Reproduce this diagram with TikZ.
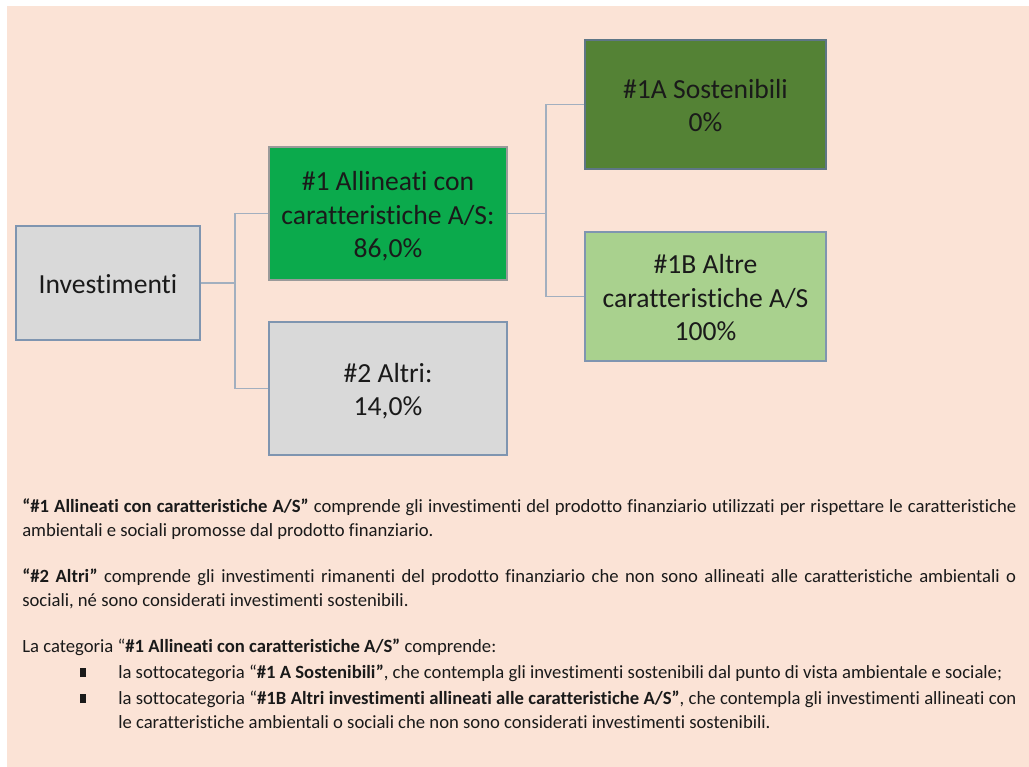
\documentclass[tikz,border=0pt]{standalone}
\usepackage{fontspec}
\setmainfont{Carlito}[Ligatures=CommonOff]
\definecolor{bgpeach}{HTML}{FBE3D6}
\definecolor{grayfill}{HTML}{D9D9D9}
\definecolor{grayedge}{HTML}{7F95B0}
\definecolor{greenone}{HTML}{0BAA4C}
\definecolor{greenoneedge}{HTML}{9A9A9A}
\definecolor{greenA}{HTML}{548235}
\definecolor{greenAedge}{HTML}{5E7686}
\definecolor{greenB}{HTML}{A9D18E}
\definecolor{connc}{HTML}{A2AFBF}
\definecolor{txt}{HTML}{1A1A1A}
\hyphenpenalty=10000
\exhyphenpenalty=10000
\newcommand\sqbullet{\leavevmode\llap{\rule[0.6pt]{4.2pt}{7.2pt}\hspace{24.5pt}}}
\newcommand\boxlines[1]{\begin{tabular}{@{}c@{}}\rule{0pt}{23.5pt}#1\end{tabular}}
\begin{document}
\begin{tikzpicture}[x=0.75pt,y=-0.75pt,
  box/.style={draw, line width=0.9pt, inner sep=0pt, text=txt, font=\fontsize{20.7}{25}\selectfont},
  wide/.style={minimum width=178.5pt, minimum height=99.75pt},
  wider/.style={minimum width=180.75pt, minimum height=96.75pt},
  conn/.style={draw=connc, line width=1.1pt},
  para/.style={anchor=base west, inner sep=0pt, text width=745.5pt, align=justify, text=txt, font=\fontsize{14}{18.4}\selectfont},
  bpara/.style={para, text width=673.5pt}]
\useasboundingbox (0,0) rectangle (1029,767);
\fill[bgpeach] (7,6) rectangle (1029,767);

\node[box, fill=grayfill, draw=grayedge, minimum width=138pt, minimum height=85.5pt] (inv) at (108,283) {\boxlines{Investimenti}};
\node[box, wide, fill=greenone, draw=greenoneedge] (a1) at (388,213.5) {\boxlines{\#1 Allineati con\\caratteristiche A/S:\\86,0\%}};
\node[box, wide, fill=grayfill, draw=grayedge] (a2) at (388,388.5) {\boxlines{\#2 Altri:\\14,0\%}};
\node[box, wider, fill=greenA, draw=greenAedge] (s1) at (705.5,104.5) {\boxlines{\#1A Sostenibili\\0\%}};
\node[box, wider, fill=greenB, draw=grayedge] (s2) at (705.5,296.5) {\boxlines{\#1B Altre\\caratteristiche A/S\\100\%}};

\coordinate (j1) at (235,283);
\coordinate (j2) at (546,213.5);
\draw[conn] (inv.east) -- (j1);
\draw[conn] (a1.west) -| (j1) |- (a2.west);
\draw[conn] (a1.east) -- (j2);
\draw[conn] (s1.west) -| (j2) |- (s2.west);

\node[para] (t1) at (22,512) {\textbf{“\#1 Allineati con caratteristiche A/S”} comprende gli investimenti del prodotto finanziario utilizzati per rispettare le caratteristiche\linebreak ambientali e sociali promosse dal prodotto finanziario.};
\node[para] (t2) at (22,582) {\textbf{“\#2 Altri”} comprende gli investimenti rimanenti del prodotto finanziario che non sono allineati alle caratteristiche ambientali o\linebreak sociali, né sono considerati investimenti sostenibili.};
\node[para] (t3) at (22,652) {La categoria “\textbf{\#1 Allineati con caratteristiche A/S”} comprende:};
\node[bpara] (b1) at (118,678) {\sqbullet la sottocategoria “\textbf{\#1 A Sostenibili”}, che contempla gli investimenti sostenibili dal punto di vista ambientale e sociale;};
\node[bpara] (b2) at (118,704) {\sqbullet la sottocategoria “\textbf{\#1B Altri investimenti allineati alle caratteristiche A/S”}, che contempla gli investimenti allineati con\linebreak le caratteristiche ambientali o sociali che non sono considerati investimenti sostenibili.};
\end{tikzpicture}
\end{document}
